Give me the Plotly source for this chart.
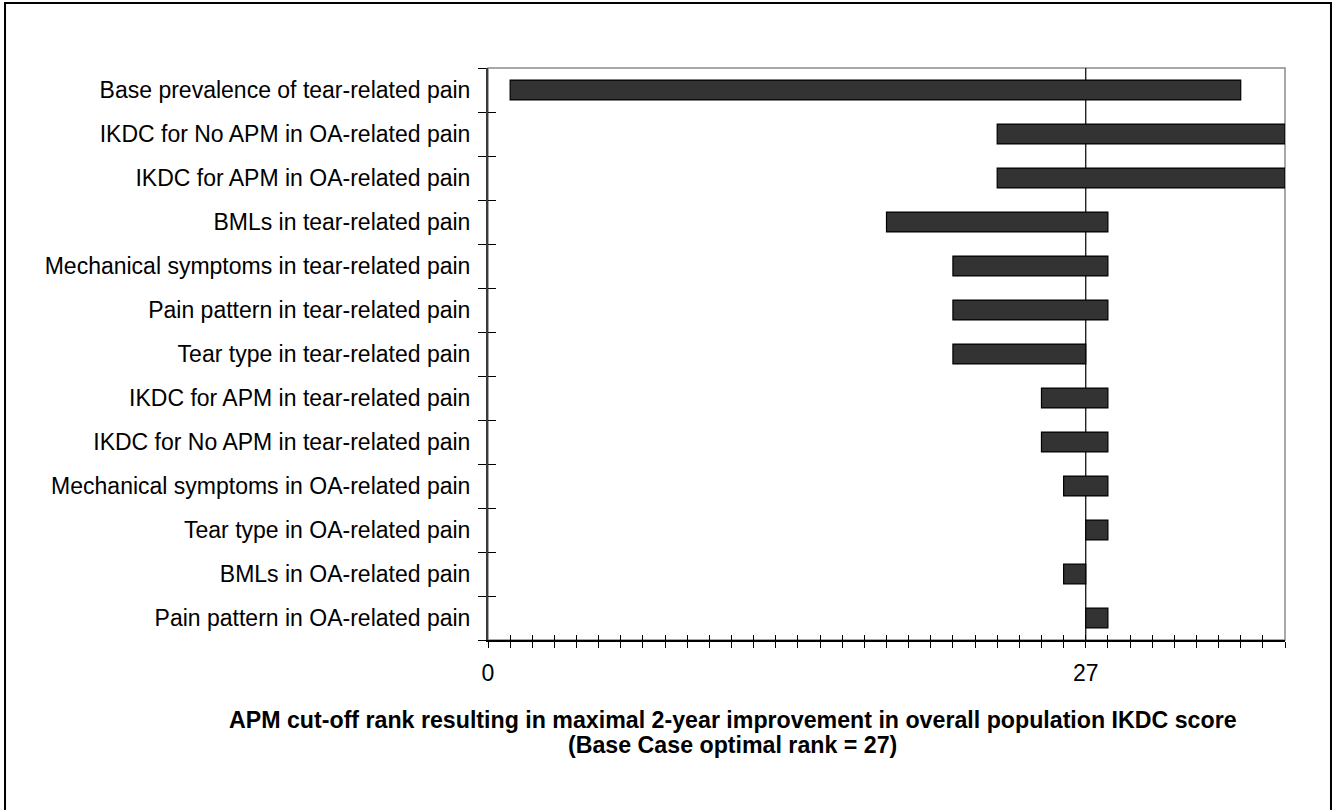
import plotly.graph_objects as go

# One-way sensitivity analysis: range of optimal APM cut-off rank per parameter
parameters = [
    "Base prevalence of tear-related pain",
    "IKDC for No APM in OA-related pain",
    "IKDC for APM in OA-related pain",
    "BMLs in tear-related pain",
    "Mechanical symptoms in tear-related pain",
    "Pain pattern in tear-related pain",
    "Tear type in tear-related pain",
    "IKDC for APM in tear-related pain",
    "IKDC for No APM in tear-related pain",
    "Mechanical symptoms in OA-related pain",
    "Tear type in OA-related pain",
    "BMLs in OA-related pain",
    "Pain pattern in OA-related pain",
]
rank_low = [1, 23, 23, 18, 21, 21, 21, 25, 25, 26, 27, 26, 27]
rank_high = [34, 36, 36, 28, 28, 28, 27, 28, 28, 28, 28, 27, 28]

BASE_RANK = 27
X_MAX = 36
x_tick_values = list(range(0, X_MAX + 1))
x_tick_text = [str(v) if v in (0, BASE_RANK) else "" for v in x_tick_values]

FONT = "Liberation Sans, Arial, sans-serif"

fig = go.Figure()

fig.add_trace(go.Bar(
    y=parameters,
    x=[h - l for l, h in zip(rank_low, rank_high)],
    base=rank_low,
    orientation="h",
    width=0.45,
    marker=dict(color="#333333", line=dict(color="#000000", width=1.2)),
    hoverinfo="skip",
    showlegend=False,
))

# invisible helper trace carrying the overlay axes (for crossing tick marks)
fig.add_trace(go.Scatter(
    y=parameters,
    x=rank_low,
    xaxis="x2",
    yaxis="y2",
    mode="markers",
    marker=dict(opacity=0),
    hoverinfo="skip",
    showlegend=False,
))

cat_order = parameters[::-1]

fig.update_layout(
    width=1338,
    height=810,
    paper_bgcolor="white",
    plot_bgcolor="white",
    margin=dict(l=488, r=53, t=68, b=170, autoexpand=False),
    font=dict(family=FONT, size=23, color="#000000"),
    bargap=0.55,
    xaxis=dict(
        range=[0, X_MAX],
        tickmode="array",
        tickvals=x_tick_values,
        ticktext=x_tick_text,
        ticks="outside",
        ticklen=6,
        tickwidth=1,
        tickcolor="#000000",
        ticklabelstandoff=6,
        tickfont=dict(size=23),
        showgrid=False,
        zeroline=False,
        showline=True,
        linecolor="#000000",
        linewidth=1.5,
        fixedrange=True,
    ),
    xaxis2=dict(
        overlaying="x",
        side="bottom",
        range=[0, X_MAX],
        tickmode="array",
        tickvals=x_tick_values,
        ticks="inside",
        ticklen=5,
        tickwidth=1,
        tickcolor="#000000",
        showticklabels=False,
        showgrid=False,
        zeroline=False,
        showline=False,
    ),
    yaxis=dict(
        type="category",
        categoryorder="array",
        categoryarray=cat_order,
        range=[-0.5, len(parameters) - 0.5],
        tickson="boundaries",
        ticks="outside",
        ticklen=8,
        tickwidth=1,
        tickcolor="#000000",
        ticklabelstandoff=11,
        tickfont=dict(size=23),
        showgrid=False,
        zeroline=False,
        showline=True,
        linecolor="#3a3a3a",
        linewidth=2,
    ),
    yaxis2=dict(
        type="category",
        overlaying="y",
        side="left",
        categoryorder="array",
        categoryarray=cat_order,
        range=[-0.5, len(parameters) - 0.5],
        tickson="boundaries",
        ticks="inside",
        ticklen=8,
        tickwidth=1,
        tickcolor="#000000",
        showticklabels=False,
        showgrid=False,
        zeroline=False,
        showline=False,
    ),
    shapes=[
        # light frame around the plotting area
        dict(type="rect", xref="paper", yref="paper", x0=0, x1=1, y0=0, y1=1,
             line=dict(color="#8c8c8c", width=1.5), layer="below"),
        # base case optimal rank reference line
        dict(type="line", xref="x", yref="paper", x0=BASE_RANK, x1=BASE_RANK, y0=0, y1=1,
             line=dict(color="#000000", width=1.2), layer="below"),
        # outer figure border
        dict(type="rect", xref="paper", yref="paper",
             x0=-0.606, x1=1.0577, y0=-0.31, y1=1.1136,
             line=dict(color="#000000", width=2), layer="above"),
    ],
    annotations=[
        dict(text="<b>APM cut-off rank resulting in maximal 2-year improvement in overall population IKDC score</b>",
             xref="paper", yref="paper", x=0.3074, y=(640 - 720) / 572,
             xanchor="center", yanchor="middle", showarrow=False,
             font=dict(size=23.2, family=FONT)),
        dict(text="<b>(Base Case optimal rank = 27)</b>",
             xref="paper", yref="paper", x=0.3074, y=(640 - 745) / 572,
             xanchor="center", yanchor="middle", showarrow=False,
             font=dict(size=23.2, family=FONT)),
    ],
)

fig.write_html("out.html")
